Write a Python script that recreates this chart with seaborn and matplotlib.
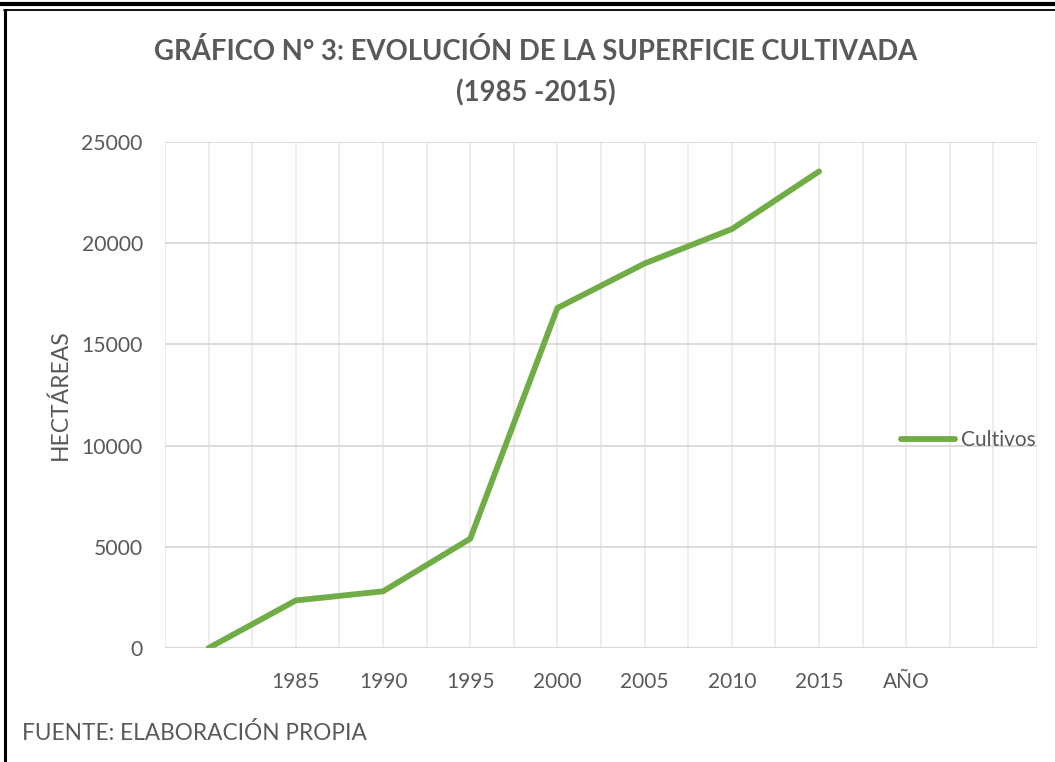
import numpy as np
import pandas as pd
import matplotlib
matplotlib.use("Agg")
import matplotlib.pyplot as plt
import seaborn as sns

# ---- data ----
categorias = ["", "1985", "1990", "1995", "2000", "2005", "2010", "2015", "AÑO", ""]
valores = [0, 2350, 2800, 5400, 16800, 19000, 20700, 23550, np.nan, np.nan]
serie = "Cultivos"
titulo = "GRÁFICO N° 3: EVOLUCIÓN DE LA SUPERFICIE CULTIVADA\n(1985 -2015)"
ylabel = "HECTÁREAS"
fuente = "FUENTE: ELABORACIÓN PROPIA"
yticks = [0, 5000, 10000, 15000, 20000, 25000]

sns.set_theme(style="white")
plt.rcParams['font.family'] = ['Lato', 'DejaVu Sans']

TXT = "#595959"
GREEN = "#70AD47"

fig = plt.figure(figsize=(10.55, 7.62), dpi=100)
ax = fig.add_axes([0.1564, 0.1496, 0.983 - 0.1564, 0.8136 - 0.1496])

df = pd.DataFrame({"pos": np.arange(len(categorias)), "valor": valores, "serie": serie})
df = df.dropna()
sns.lineplot(data=df, x="pos", y="valor", hue="serie", palette=[GREEN],
             linewidth=4.2, ax=ax, solid_capstyle="round", solid_joinstyle="round")

ax.set_xlim(-0.5, len(categorias) - 0.5)
ax.set_ylim(0, 25000)
ax.set_yticks(yticks)
ax.set_yticklabels([str(v) for v in yticks], color=TXT, fontsize=15.2)
ax.set_xticks(np.arange(len(categorias)))
ax.set_xticklabels(categorias, color=TXT, fontsize=15)
ax.tick_params(axis="y", length=0, pad=16)
ax.tick_params(axis="x", length=0, pad=17)

# gridlines
for xv in np.arange(-0.5, len(categorias), 0.5):
    ax.axvline(xv, color="#EBEBEB", linewidth=1.3, zorder=0)
for yv in yticks:
    ax.axhline(yv, color="#D9D9D9", linewidth=1.3, zorder=0)
ax.axhline(0, color="#D9D9D9", linewidth=1.6, zorder=1)

for s in ax.spines.values():
    s.set_visible(False)

ax.set_xlabel("")
ax.set_ylabel(ylabel, color=TXT, fontsize=16.5)
ax.yaxis.set_label_coords((71 - 165) / 872, 0.5)

leg = ax.legend(loc="center left", bbox_to_anchor=(901 / 1055, 1 - 440 / 762),
                bbox_transform=fig.transFigure, frameon=False, fontsize=15,
                handlelength=2.6, handletextpad=0.3, borderaxespad=0, borderpad=0)
for t in leg.get_texts():
    t.set_color(TXT)
for h in leg.get_lines():
    h.set_linewidth(4.2)

fig.text(536 / 1055, 1 - 72 / 762, titulo, ha="center", va="center",
         fontsize=19.8, fontweight="bold", color=TXT, linespacing=1.65)
fig.text(22 / 1055, 1 - 733 / 762, fuente, ha="left", va="center",
         fontsize=16.3, color=TXT)

# frame lines
fig.add_artist(plt.Line2D([0, 1], [1 - 4 / 762] * 2, transform=fig.transFigure,
                          color="black", linewidth=3))
fig.add_artist(plt.Line2D([4 / 1055, 1], [1 - 10 / 762] * 2, transform=fig.transFigure,
                          color="black", linewidth=1.3))
fig.add_artist(plt.Line2D([5 / 1055] * 2, [0, 1 - 10 / 762], transform=fig.transFigure,
                          color="black", linewidth=2.2))

fig.savefig("out.png", dpi=100)
